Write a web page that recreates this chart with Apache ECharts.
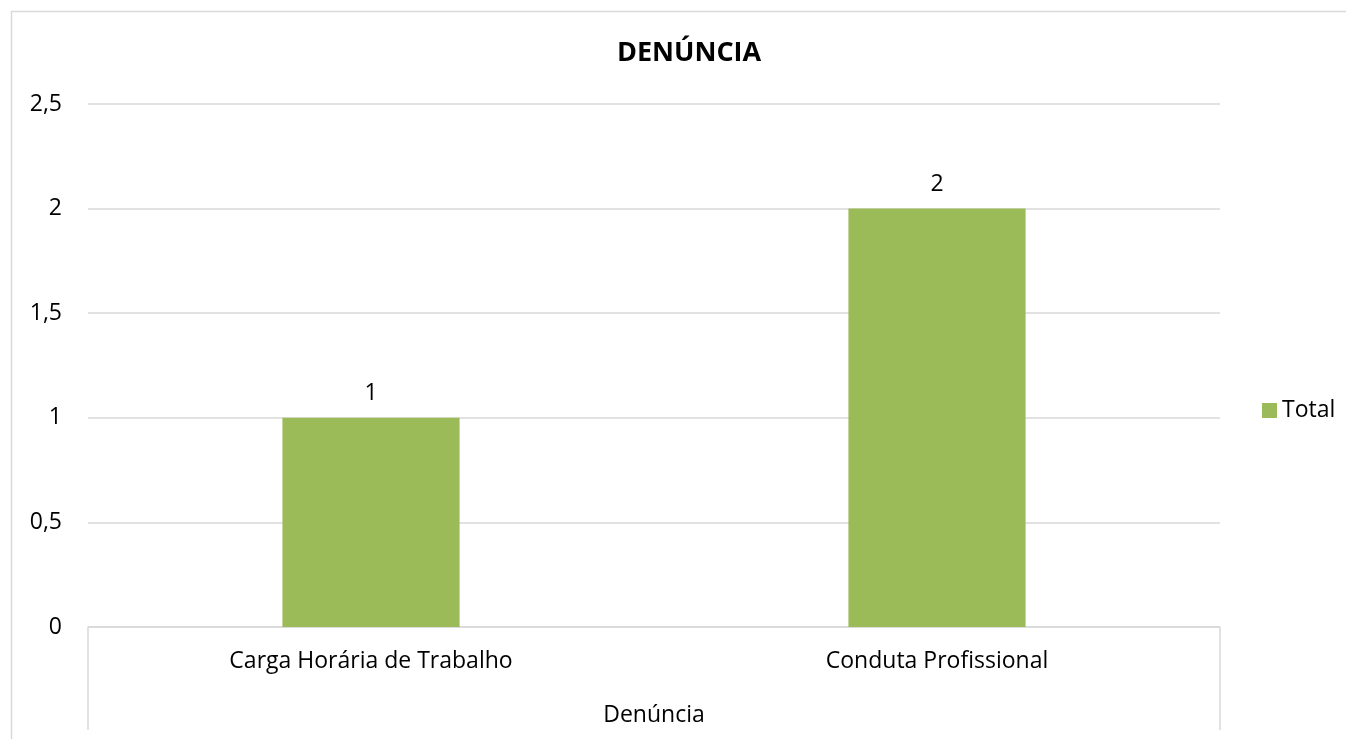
<!DOCTYPE html>
<html>
<head>
<meta charset="utf-8">
<script src="https://cdn.jsdelivr.net/npm/echarts@6/dist/echarts.min.js"></script>
<style>
  html, body { margin: 0; padding: 0; background: #fff; }
  #chart { width: 1346px; height: 739px; }
</style>
</head>
<body>
<div id="chart"></div>
<script>
// data
var categories = ['Carga Horária de Trabalho', 'Conduta Profissional'];
var totals = [1, 2];
var seriesName = 'Total';

var font = '"Open Sans", "Noto Sans", sans-serif';
var lineGrey = '#d9d9d9';

var myChart = echarts.init(document.getElementById('chart'));

option = {
    backgroundColor: '#fff',
    title: {
        text: 'DENÚNCIA',
        left: 612,
        top: 35,
        textStyle: { fontFamily: font, fontSize: 27, fontWeight: 'bold', color: '#000' }
    },
    legend: {
        data: [seriesName],
        left: 1257,
        top: 394,
        orient: 'vertical',
        itemWidth: 15,
        itemHeight: 15,
        icon: 'rect',
        textStyle: { fontFamily: font, fontSize: 23, color: '#000' }
    },
    grid: { left: 88, right: 126, top: 104, bottom: 112, containLabel: false },
    xAxis: {
        type: 'category',
        data: categories,
        name: 'Denúncia',
        nameLocation: 'middle',
        nameGap: 77,
        nameTextStyle: { fontFamily: font, fontSize: 23, color: '#000' },
        axisLine: { lineStyle: { color: lineGrey, width: 1.5 } },
        axisTick: { show: false },
        axisLabel: { fontFamily: font, fontSize: 23, color: '#000', margin: 23 }
    },
    yAxis: {
        type: 'value',
        min: 0,
        max: 2.5,
        interval: 0.5,
        axisLine: { show: false },
        axisTick: { show: false },
        splitLine: { lineStyle: { color: lineGrey, width: 1.5 } },
        axisLabel: {
            fontFamily: font, fontSize: 23, color: '#000', margin: 26,
            formatter: function (v) { return String(v).replace('.', ','); }
        }
    },
    graphic: [
        // outer chart frame (only top and left edges visible in the crop)
        { type: 'polyline', shape: { points: [[11.5, 739], [11.5, 11.5], [1346, 11.5]] },
          style: { stroke: lineGrey, lineWidth: 1.5, fill: null }, silent: true },
        // category axis box sides
        { type: 'line', shape: { x1: 88, y1: 627, x2: 88, y2: 730 },
          style: { stroke: lineGrey, lineWidth: 1.5 }, silent: true },
        { type: 'line', shape: { x1: 1220, y1: 627, x2: 1220, y2: 730 },
          style: { stroke: lineGrey, lineWidth: 1.5 }, silent: true }
    ],
    series: [
        {
            name: seriesName,
            type: 'bar',
            data: totals,
            barWidth: '31.3%',
            itemStyle: { color: '#9bbb59' },
            label: {
                show: true,
                position: 'top',
                distance: 13,
                fontFamily: font,
                fontSize: 23,
                color: '#000'
            }
        }
    ]
};

myChart.setOption(option, true);
</script>
</body>
</html>
